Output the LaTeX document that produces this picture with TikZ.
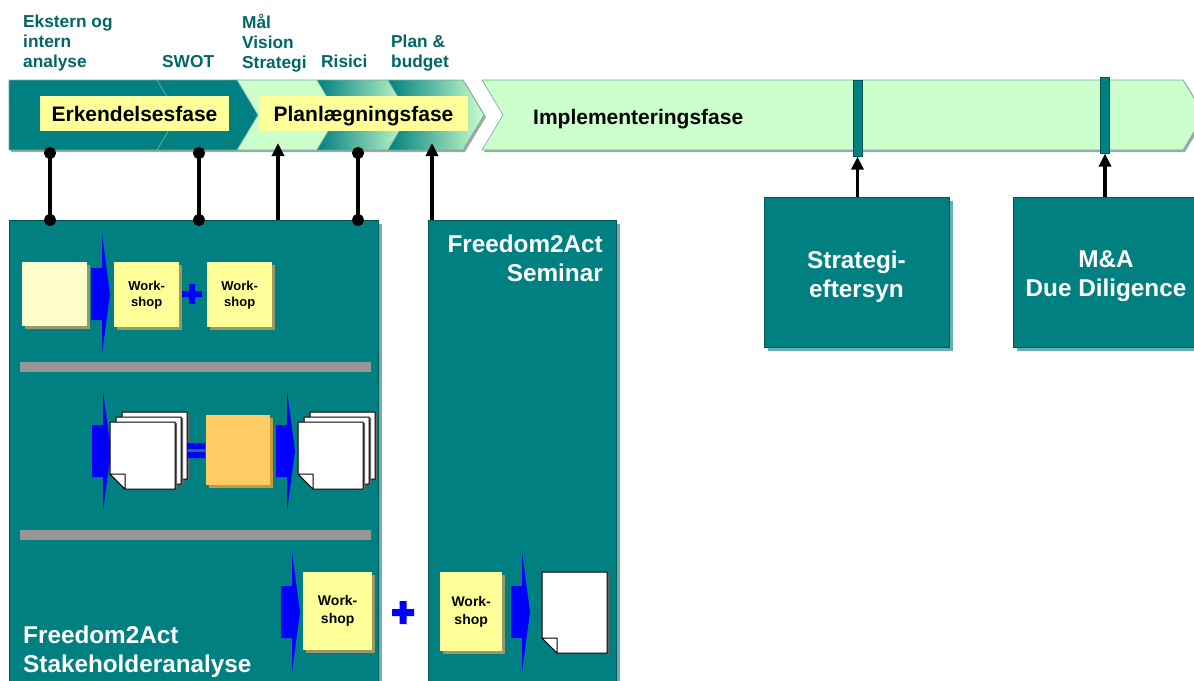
\documentclass[tikz,border=0pt]{standalone}
\usepackage{fontspec}
\setmainfont{Liberation Sans}
\usepackage{xcolor}
\usepackage{tikz}
\usetikzlibrary{arrows.meta,shadows}
\definecolor{f2teal}{RGB}{0,128,128}
\definecolor{f2tealdark}{RGB}{0,85,85}
\definecolor{f2tealshade}{RGB}{102,178,178}
\definecolor{f2edge}{RGB}{110,170,160}
\definecolor{f2labelteal}{RGB}{0,102,102}
\definecolor{f2green}{RGB}{204,255,204}
\definecolor{f2yellow}{RGB}{255,255,153}
\definecolor{f2pale}{RGB}{255,255,204}
\definecolor{f2khaki}{RGB}{153,153,102}
\definecolor{f2orange}{RGB}{255,204,102}
\definecolor{f2brown}{RGB}{204,153,51}
\definecolor{f2blue}{RGB}{0,0,255}
\definecolor{f2bar}{RGB}{150,150,150}

\tikzset{
  chev/.style={draw=f2edge, line width=0.6pt, drop shadow={shadow xshift=2pt, shadow yshift=-2pt, fill=black!35, opacity=1}},
  phasebox/.style={fill=f2yellow, inner sep=0pt, text height=15pt, text depth=0pt, font=\fontsize{21}{24}\selectfont\bfseries},
  toplabel/.style={anchor=north west, inner sep=0pt, align=left, text=f2labelteal, font=\fontsize{17.3}{20}\selectfont\bfseries},
  bigbox/.style={fill=f2teal, draw=f2tealdark, line width=1pt, anchor=north west, inner sep=0pt, drop shadow={shadow xshift=3pt, shadow yshift=-3pt, fill=f2tealshade, opacity=1}},
  boxlabel/.style={inner sep=0pt, text=white, font=\fontsize{24.3}{29}\selectfont\bfseries},
  sheet/.style={anchor=north west, inner sep=0pt, drop shadow={shadow xshift=3pt, shadow yshift=-3pt, fill=#1, opacity=1}},
  wsbox/.style={sheet=f2khaki, fill=f2yellow, align=center},
  markbar/.style={fill=f2teal, draw=f2tealdark, line width=0.6pt, anchor=north, inner sep=0pt, minimum width=9pt, minimum height=76pt},
  dotline/.style={line width=3.5pt, {Circle[length=12pt]}-{Circle[length=12pt]}, shorten <=-6pt, shorten >=-6pt},
  uparrow/.style={line width=3.5pt, -{Triangle[width=12pt, length=13pt]}},
  pics/leaf/.style={code={
    \fill[black!60] (2,1) -- (67,1) -- (67,#1+1) -- (17,#1+1) -- (2,#1-14) -- cycle;
    \draw[fill=white, line width=1pt] (0,0) -- (65,0) -- (65,#1) -- (15,#1) -- (0,#1-15) -- cycle;
    \draw[fill=white, line width=1pt, line join=round] (0,#1-15) -- (15,#1-15) -- (15,#1) -- cycle;
  }},
  barrow/.pic={\fill[f2blue] (-11,-26) -- (0,-26) -- (0,-60) -- (8,0) -- (0,60) -- (0,26) -- (-11,26) -- cycle;}
}

\begin{document}
\begin{tikzpicture}[x=1pt, y=-1pt]

\useasboundingbox (0,0) rectangle (1194,680);
\clip (0,0) rectangle (1194,680);

% Phase band
\path[chev, fill=f2teal] (9,80) -- (157,80) -- (178,115) -- (157,150) -- (9,150) -- cycle;
\path[chev, fill=f2teal] (157,80) -- (237,80) -- (258,115) -- (237,150) -- (157,150) -- (178,115) -- cycle;
\path[chev, fill=f2green] (237,80) -- (317,80) -- (338,115) -- (317,150) -- (237,150) -- (258,115) -- cycle;
\path[chev, left color=f2teal, right color=f2green] (317,80) -- (388,80) -- (409,115) -- (388,150) -- (317,150) -- (338,115) -- cycle;
\path[chev, left color=f2teal, right color=f2green] (388,80) -- (463,80) -- (484,115) -- (463,150) -- (388,150) -- (409,115) -- cycle;
\path[chev, fill=f2green] (482,80) -- (1183,80) -- (1204,115) -- (1183,150) -- (482,150) -- (503,115) -- cycle;

% Milestones
\node[markbar] (rev) at (857.5,80) {};
\node[markbar] (ma) at (1105,77) {};

% Phase names
\node[phasebox, minimum width=189pt, minimum height=35pt] (erk) at (134.5,113.5) {Erkendelsesfase};
\node[phasebox, minimum width=209pt, minimum height=35pt] (plan) at (363.5,113.5) {Planlægningsfase};
\node[anchor=base west, inner sep=0pt, font=\fontsize{21}{24}\selectfont\bfseries] (impl) at (533,124) {Implementeringsfase};

% Step labels
\node[toplabel] (lblext) at (23,15) {Ekstern og\\intern\\analyse};
\node[toplabel] (lblswot) at (162,55) {SWOT};
\node[toplabel] (lblmaal) at (242,14) {Mål\\Vision\\Strategi};
\node[toplabel] (lblrisk) at (321,55) {Risici};
\node[toplabel] (lblplan) at (391,35) {Plan \&\\budget};

% Boxes
\node[bigbox, minimum width=369pt, minimum height=480pt] (stake) at (9,220) {};
\node[bigbox, minimum width=188pt, minimum height=480pt] (semi) at (428,220) {};
\node[bigbox, minimum width=185pt, minimum height=150pt] (revbox) at (764,197) {};
\node[bigbox, minimum width=186pt, minimum height=150pt] (mabox) at (1013,197) {};

\node[boxlabel, anchor=north west, align=left] (stakelbl) at (23,626) {Freedom2Act\\Stakeholderanalyse};
\node[boxlabel, anchor=north east, align=right] (semilbl) at (603,234.5) {Freedom2Act\\Seminar};
\node[boxlabel, align=center] (revlbl) at (856.5,276.5) {Strategi-\\eftersyn};
\node[boxlabel, align=center] (malbl) at (1106,276.5) {M\&A\\Due Diligence};

% Row 1
\node[sheet=f2khaki, fill=f2pale, minimum width=65pt, minimum height=64pt] (task) at (22,262) {};
\pic at (102,294) {barrow};
\node[wsbox, minimum width=65pt, minimum height=65pt, font=\fontsize{13}{16}\selectfont\bfseries] (ws1) at (114,262) {Work-\\shop};
\fill[f2blue] (182,291) rectangle (202,297) (189,284) rectangle (195,304);
\node[wsbox, minimum width=65pt, minimum height=65pt, font=\fontsize{13}{16}\selectfont\bfseries] (ws2) at (207,262) {Work-\\shop};
\fill[f2bar] (20,362) rectangle (371,372);

% Row 2
\pic at (103,451) {barrow};
\pic at (122,412) {leaf=67};
\pic at (116,417) {leaf=67};
\pic at (110,422) {leaf=67};
\fill[f2blue] (187,443) rectangle (205,449) (187,452) rectangle (205,458);
\node[sheet=f2brown, fill=f2orange, minimum width=64pt, minimum height=70pt] (synth) at (206,415) {};
\pic at (287,451) {barrow};
\pic at (310,412) {leaf=67};
\pic at (304,417) {leaf=67};
\pic at (298,422) {leaf=67};
\fill[f2bar] (20,530) rectangle (371,540);

% Row 3
\pic at (292,612) {barrow};
\node[wsbox, minimum width=69pt, minimum height=78pt, font=\fontsize{14}{18}\selectfont\bfseries] (ws3) at (303,572) {Work-\\shop};
\fill[f2blue] (392,609) rectangle (414,616) (399.5,601) rectangle (406.5,624);
\node[wsbox, minimum width=62pt, minimum height=79pt, font=\fontsize{14}{18}\selectfont\bfseries] (ws4) at (440,572) {Work-\\shop};
\pic at (522,612) {barrow};
\pic at (542,572) {leaf=81};

% Connectors
\coordinate (ekst) at (50,153);
\coordinate (swot) at (199,153);
\coordinate (risk) at (358,153);
\coordinate (maal) at (278,143);
\coordinate (budget) at (432,143);

\draw[dotline] (ekst) -- (ekst |- stake.north);
\draw[dotline] (swot) -- (swot |- stake.north);
\draw[dotline] (risk) -- (risk |- stake.north);
\draw[uparrow] (maal |- stake.north) -- (maal);
\draw[uparrow] (budget |- semi.north) -- (budget);
\draw[uparrow] (rev.south |- revbox.north) -- (rev.south);
\draw[uparrow] (ma.south |- mabox.north) -- (ma.south);

\end{tikzpicture}
\end{document}
